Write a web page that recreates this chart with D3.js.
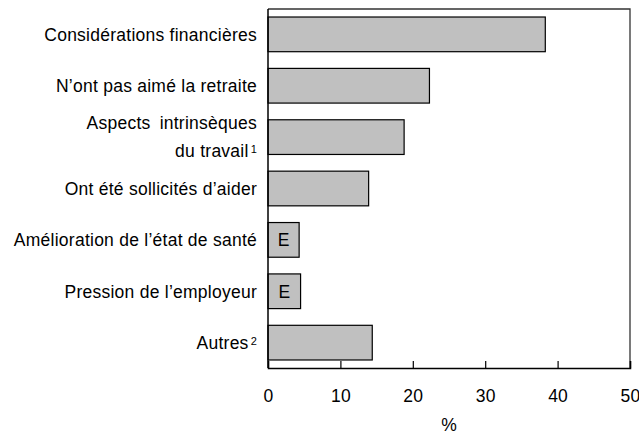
<!DOCTYPE html>
<html>
<head>
<meta charset="utf-8">
<script src="https://cdn.jsdelivr.net/npm/d3@7"></script>
<style>
  body { margin: 0; background: #fff; }
  svg { display: block; font-family: "Liberation Sans", Arial, sans-serif; }
</style>
</head>
<body>
<svg id="chart" width="639" height="434"></svg>
<script>
// categories (lines of each label), footnote marks, values
const categories = [
  ["Considérations financières"],
  ["N’ont pas aimé la retraite"],
  ["Aspects intrinsèques", "du travail"],
  ["Ont été sollicités d’aider"],
  ["Amélioration de l’état de santé"],
  ["Pression de l’employeur"],
  ["Autres"]
];
const notes = ["", "", "1", "", "", "", "2"];
const values = [38.3, 22.3, 18.8, 13.9, 4.3, 4.5, 14.4];
const flags = ["", "", "", "", "E", "E", ""];
const xTicks = [0, 10, 20, 30, 40, 50];
const xTitle = "%";

const fontSize = 17.5;
const margin = { top: 9, right: 9, bottom: 66, left: 268 };
const width = 639 - margin.left - margin.right;
const height = 434 - margin.top - margin.bottom;

const svg = d3.select("#chart")
  .append("g")
  .attr("transform", "translate(" + margin.left + "," + margin.top + ")");

const x = d3.scaleLinear().domain([0, 50]).range([0, width]);
const y = d3.scaleBand()
  .domain(d3.range(categories.length))
  .range([0, height])
  .paddingInner(0.325)
  .paddingOuter(0.156);

// frame: top and right
svg.append("path")
  .attr("d", "M0,0H" + width + "V" + height)
  .attr("fill", "none")
  .attr("stroke", "#333")
  .attr("stroke-width", 1.3);

// bars
svg.selectAll("rect.bar")
  .data(values)
  .enter()
  .append("rect")
  .attr("class", "bar")
  .attr("x", 0)
  .attr("y", (d, i) => y(i))
  .attr("width", d => x(d))
  .attr("height", y.bandwidth())
  .attr("fill", "#c0c0c0")
  .attr("stroke", "#000")
  .attr("stroke-width", 1.2);

// E flags
const flagged = values.map((v, i) => ({ v: v, i: i, f: flags[i] })).filter(d => d.f !== "");
svg.selectAll("text.flag")
  .data(flagged)
  .enter()
  .append("text")
  .attr("class", "flag")
  .attr("x", d => x(d.v) / 2)
  .attr("y", d => y(d.i) + y.bandwidth() / 2)
  .attr("dy", "0.36em")
  .attr("text-anchor", "middle")
  .attr("font-size", fontSize)
  .attr("fill", "#000")
  .text(d => d.f);

// x axis
const xAxis = d3.axisBottom(x)
  .tickValues(xTicks)
  .tickSize(-7)
  .tickPadding(22)
  .tickFormat(d3.format("d"));

const gx = svg.append("g")
  .attr("transform", "translate(0," + height + ")")
  .call(xAxis);
gx.select(".domain").attr("stroke", "#000").attr("stroke-width", 1.5);
gx.selectAll(".tick line").attr("stroke", "#000").attr("stroke-width", 1.2);
gx.selectAll(".tick text")
  .attr("font-size", fontSize)
  .attr("font-family", "Liberation Sans, Arial, sans-serif")
  .attr("letter-spacing", 0.2)
  .attr("fill", "#000");

svg.append("text")
  .attr("x", x(25))
  .attr("y", height + 57)
  .attr("dy", "0.36em")
  .attr("text-anchor", "middle")
  .attr("font-size", fontSize)
  .text(xTitle);

// y axis line
svg.append("line")
  .attr("x1", 0).attr("x2", 0)
  .attr("y1", 0).attr("y2", height)
  .attr("stroke", "#000")
  .attr("stroke-width", 1.5);

// category labels
const labels = svg.selectAll("text.cat")
  .data(categories)
  .enter()
  .append("text")
  .attr("class", "cat")
  .attr("text-anchor", "end")
  .attr("font-size", fontSize)
  .attr("letter-spacing", 0.25)
  .attr("fill", "#000");

labels.each(function(lines, i) {
  const t = d3.select(this);
  const cy = y(i) + y.bandwidth() / 2;
  const n = lines.length;
  lines.forEach((line, j) => {
    const last = j === n - 1;
    const ty = cy + (j - (n - 1) / 2) * 28;
    const span = t.append("tspan")
      .attr("x", -11)
      .attr("y", ty)
      .attr("dy", "0.36em")
      .text(line);
    if (n > 1 && j === 0) span.attr("word-spacing", 4);
    if (last && notes[i]) {
      t.append("tspan")
        .attr("dx", 2)
        .attr("dy", "-0.4em")
        .attr("font-size", 11)
        .text(notes[i]);
    }
  });
});
</script>
</body>
</html>
